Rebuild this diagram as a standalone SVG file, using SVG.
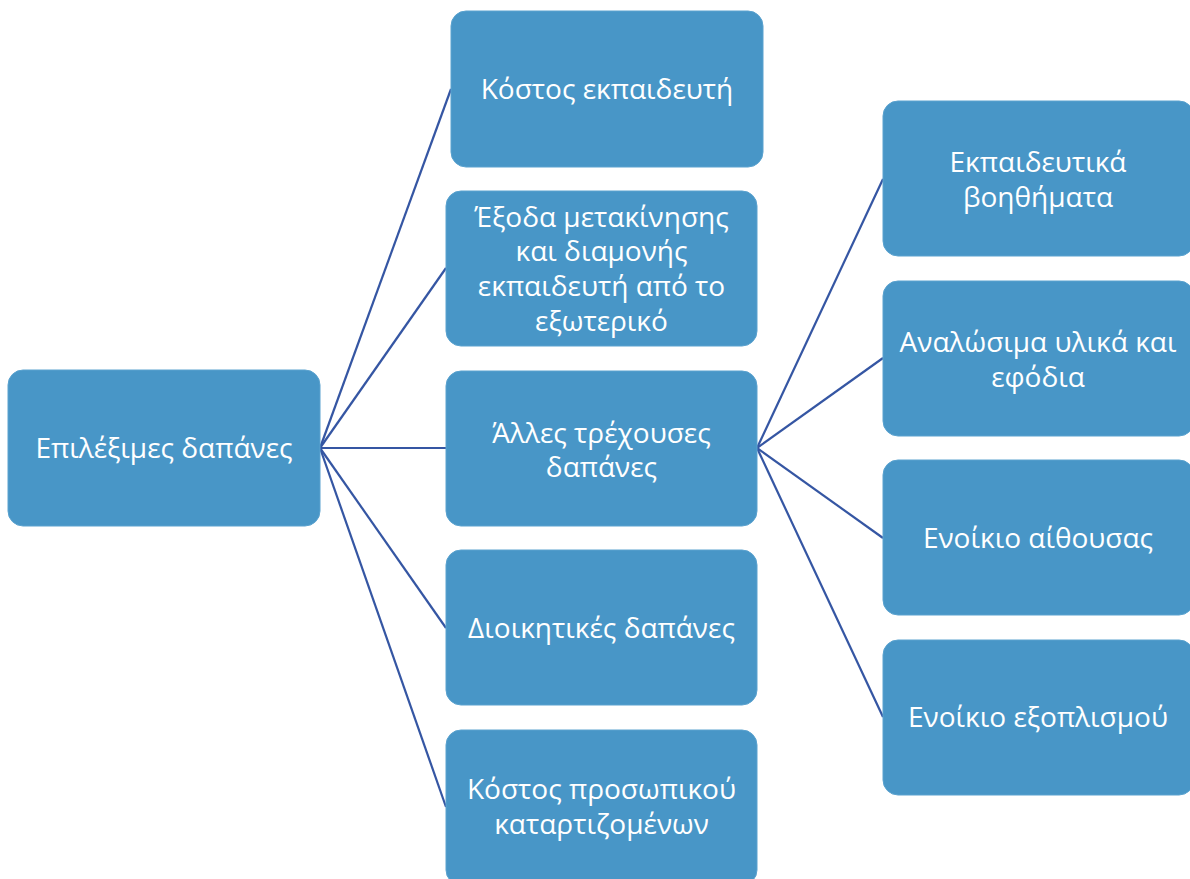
<svg xmlns="http://www.w3.org/2000/svg" width="1190" height="879" viewBox="0 0 1190 879">
<style>
.box{fill:#4896C7;stroke:#5AA2CF;stroke-width:1}
.t{font-family:"Open Sans","Noto Sans","DejaVu Sans",sans-serif;font-size:28px;fill:#FFFFFF;text-anchor:middle}
.c{stroke:#3556A3;stroke-width:2.2;fill:none}
</style>
<rect width="1190" height="879" fill="#FFFFFF"/>
<g id="connectors">
<line class="c" x1="320" y1="448" x2="451" y2="89"/>
<line class="c" x1="320" y1="448" x2="446" y2="268"/>
<line class="c" x1="320" y1="448" x2="446" y2="448"/>
<line class="c" x1="320" y1="448" x2="446" y2="628"/>
<line class="c" x1="320" y1="448" x2="446" y2="807"/>
<line class="c" x1="757" y1="448" x2="883" y2="179"/>
<line class="c" x1="757" y1="448" x2="883" y2="358"/>
<line class="c" x1="757" y1="448" x2="883" y2="538"/>
<line class="c" x1="757" y1="448" x2="883" y2="717"/>
</g>
<g id="root">
<rect class="box" x="8" y="370" width="312" height="156" rx="15"/>
<text class="t" x="164" y="458">Επιλέξιμες δαπάνες</text>
</g>
<g id="n1">
<rect class="box" x="451" y="11" width="312" height="156" rx="15"/>
<text class="t" x="607" y="99">Κόστος εκπαιδευτή</text>
</g>
<g id="n2">
<rect class="box" x="446" y="191" width="311" height="155" rx="15"/>
<text class="t" x="601.5" y="227">Έξοδα μετακίνησης</text>
<text class="t" x="601.5" y="261">και διαμονής</text>
<text class="t" x="601.5" y="296">εκπαιδευτή από το</text>
<text class="t" x="601.5" y="331">εξωτερικό</text>
</g>
<g id="n3">
<rect class="box" x="446" y="371" width="311" height="155" rx="15"/>
<text class="t" x="601.5" y="443">Άλλες τρέχουσες</text>
<text class="t" x="601.5" y="477">δαπάνες</text>
</g>
<g id="n4">
<rect class="box" x="446" y="550" width="311" height="155" rx="15"/>
<text class="t" x="601.5" y="638">Διοικητικές δαπάνες</text>
</g>
<g id="n5">
<rect class="box" x="446" y="730" width="311" height="155" rx="15"/>
<text class="t" x="601.5" y="799">Κόστος προσωπικού</text>
<text class="t" x="601.5" y="834">καταρτιζομένων</text>
</g>
<g id="n6">
<rect class="box" x="883" y="101" width="311" height="155" rx="15"/>
<text class="t" x="1038" y="172">Εκπαιδευτικά</text>
<text class="t" x="1038" y="207">βοηθήματα</text>
</g>
<g id="n7">
<rect class="box" x="883" y="281" width="311" height="155" rx="15"/>
<text class="t" x="1038" y="352">Αναλώσιμα υλικά και</text>
<text class="t" x="1038" y="387">εφόδια</text>
</g>
<g id="n8">
<rect class="box" x="883" y="460" width="311" height="155" rx="15"/>
<text class="t" x="1038" y="548">Ενοίκιο αίθουσας</text>
</g>
<g id="n9">
<rect class="box" x="883" y="640" width="311" height="155" rx="15"/>
<text class="t" x="1038" y="727">Ενοίκιο εξοπλισμού</text>
</g>
</svg>
